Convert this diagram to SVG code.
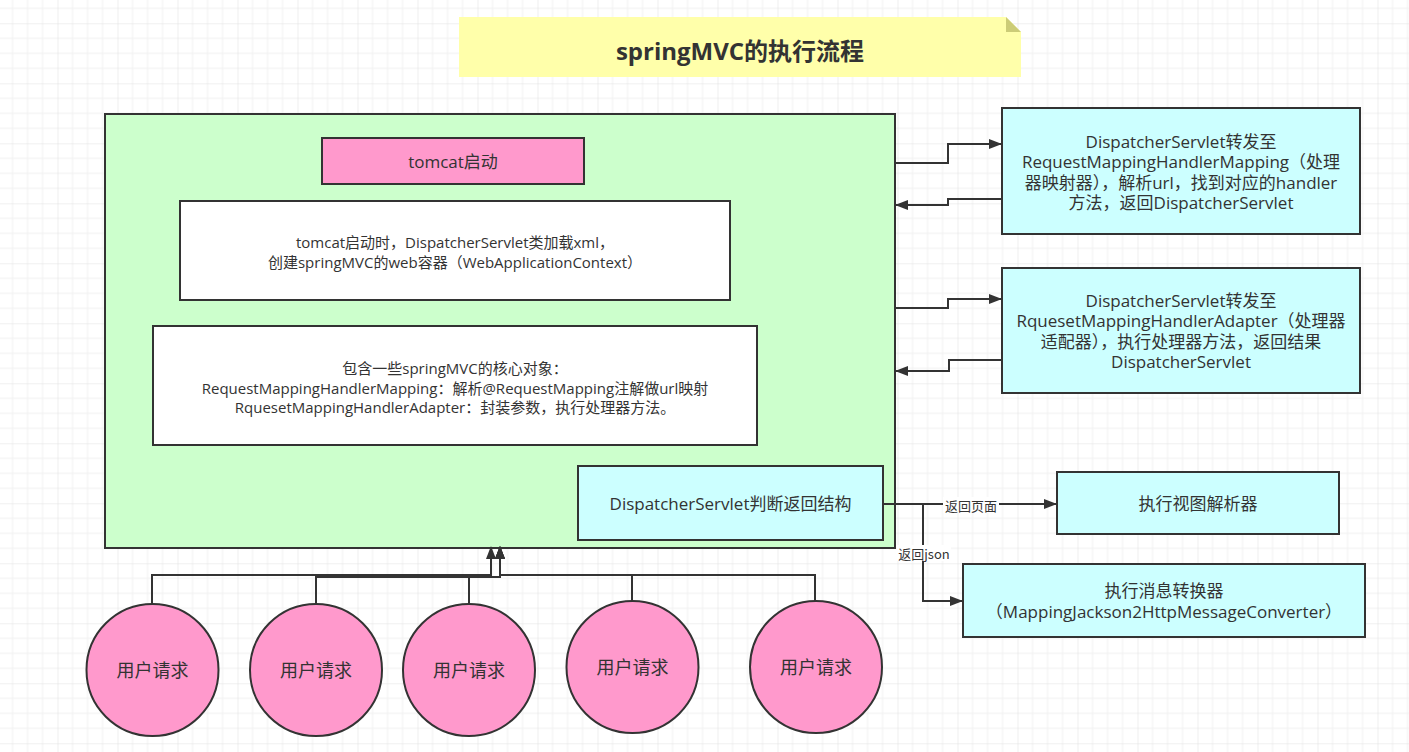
<svg xmlns="http://www.w3.org/2000/svg" width="1409" height="752" viewBox="0 0 1409 752">
<style>
.t{font-family:"Open Sans","Noto Sans CJK SC",sans-serif;fill:#333;text-anchor:middle;dominant-baseline:central}
.box{stroke:#333;stroke-width:2}
.c{fill:none;stroke:#333;stroke-width:2}
.lbl{font-family:"Noto Sans CJK SC",sans-serif;font-size:13px;fill:#333;text-anchor:middle;dominant-baseline:central}
</style>
<defs>
<pattern id="grid" width="60" height="60" patternUnits="userSpaceOnUse" x="-2.5" y="-36.7">
<path d="M15 0V60M30 0V60M45 0V60M0 15H60M0 30H60M0 45H60" stroke="#f0f0f0" stroke-width="1" fill="none"/>
<path d="M0 0V60M0 0H60" stroke="#e2e2e2" stroke-width="1.2" fill="none"/>
</pattern>
<marker id="ar" markerWidth="14" markerHeight="10" refX="12" refY="5" orient="auto" markerUnits="userSpaceOnUse">
<path d="M0 0L13 5L0 10z" fill="#333"/>
</marker>
</defs>
<rect width="1409" height="752" fill="#fff"/>
<rect width="1409" height="752" fill="url(#grid)"/>

<g id="title">
<path d="M459 17H1006L1021 32V77H459z" fill="#ffffaa"/>
<path d="M1006 17L1021 32H1006z" fill="#cccc77"/>
<text class="t" x="740" y="50" font-size="24" font-weight="bold">springMVC的执行流程</text>
</g>

<g id="container">
<rect class="box" x="105" y="114" width="790" height="434" fill="#ccffcc"/>
</g>
<g id="tomcat">
<rect class="box" x="322" y="138" width="262" height="46" fill="#ff99cc"/>
<text class="t" x="453" y="161" font-size="17">tomcat启动</text>
</g>
<g id="init">
<rect class="box" x="180" y="201" width="550" height="99" fill="#fff"/>
<text class="t" x="455" y="242" font-size="15">tomcat启动时，DispatcherServlet类加载xml，</text>
<text class="t" x="455" y="261.5" font-size="15">创建springMVC的web容器（WebApplicationContext）</text>
</g>
<g id="core">
<rect class="box" x="153" y="326" width="604" height="119" fill="#fff"/>
<text class="t" x="455" y="368" font-size="15">包含一些springMVC的核心对象：</text>
<text class="t" x="455" y="387.5" font-size="15">RequestMappingHandlerMapping：解析@RequestMapping注解做url映射</text>
<text class="t" x="455" y="407" font-size="15">RquesetMappingHandlerAdapter：封装参数，执行处理器方法。</text>
</g>
<g id="judge">
<rect class="box" x="578" y="466" width="305" height="74" fill="#ccffff"/>
<text class="t" x="730.5" y="503" font-size="17">DispatcherServlet判断返回结构</text>
</g>

<g id="mapping">
<rect class="box" x="1002" y="108" width="358" height="126" fill="#ccffff"/>
<text class="t" x="1181" y="141" font-size="17">DispatcherServlet转发至</text>
<text class="t" x="1181" y="161.5" font-size="17">RequestMappingHandlerMapping（处理</text>
<text class="t" x="1181" y="182" font-size="17">器映射器），解析url，找到对应的handler</text>
<text class="t" x="1181" y="202.5" font-size="17">方法，返回DispatcherServlet</text>
</g>
<g id="adapter">
<rect class="box" x="1002" y="268" width="358" height="125" fill="#ccffff"/>
<text class="t" x="1181" y="300" font-size="17">DispatcherServlet转发至</text>
<text class="t" x="1181" y="320.5" font-size="17">RquesetMappingHandlerAdapter（处理器</text>
<text class="t" x="1181" y="341" font-size="17">适配器），执行处理器方法，返回结果</text>
<text class="t" x="1181" y="361.5" font-size="17">DispatcherServlet</text>
</g>
<g id="view">
<rect class="box" x="1057" y="472" width="282" height="62" fill="#ccffff"/>
<text class="t" x="1198" y="503" font-size="17">执行视图解析器</text>
</g>
<g id="converter">
<rect class="box" x="963" y="564" width="402" height="73" fill="#ccffff"/>
<text class="t" x="1164" y="590" font-size="17">执行消息转换器</text>
<text class="t" x="1164" y="611" font-size="17">（MappingJackson2HttpMessageConverter）</text>
</g>

<g id="req1"><circle class="box" cx="152.5" cy="670" r="66" fill="#ff99cc"/><text class="t" x="152.5" y="670" font-size="18">用户请求</text></g>
<g id="req2"><circle class="box" cx="316" cy="670" r="66" fill="#ff99cc"/><text class="t" x="316" y="670" font-size="18">用户请求</text></g>
<g id="req3"><circle class="box" cx="469" cy="670" r="66" fill="#ff99cc"/><text class="t" x="469" y="670" font-size="18">用户请求</text></g>
<g id="req4"><circle class="box" cx="632.5" cy="667" r="66" fill="#ff99cc"/><text class="t" x="632.5" y="667" font-size="18">用户请求</text></g>
<g id="req5"><circle class="box" cx="816" cy="667" r="66" fill="#ff99cc"/><text class="t" x="816" y="667" font-size="18">用户请求</text></g>

<g id="connectors">
<path class="c" d="M895 163H948V144H1001" marker-end="url(#ar)"/>
<path class="c" d="M1002 199H948V205H896" marker-end="url(#ar)"/>
<path class="c" d="M895 308H948V299H1001" marker-end="url(#ar)"/>
<path class="c" d="M1002 360H949V371H896" marker-end="url(#ar)"/>
<path class="c" d="M883 504H1056" marker-end="url(#ar)"/>
<path class="c" d="M923 504V601H962" marker-end="url(#ar)"/>
<path class="c" d="M152 604V575H491V547" marker-end="url(#ar)"/>
<path class="c" d="M316 604V577H500V547" marker-end="url(#ar)"/>
<path class="c" d="M469 604V577H500V547" marker-end="url(#ar)"/>
<path class="c" d="M632 601V575H500V547" marker-end="url(#ar)"/>
<path class="c" d="M815 601V575H500V547" marker-end="url(#ar)"/>
<rect x="943" y="497" width="56" height="16" fill="#fff"/>
<text class="lbl" x="971" y="505">返回页面</text>
<rect x="897" y="545" width="54" height="16" fill="#fff"/>
<text class="lbl" x="924" y="553">返回json</text>
</g>
</svg>
